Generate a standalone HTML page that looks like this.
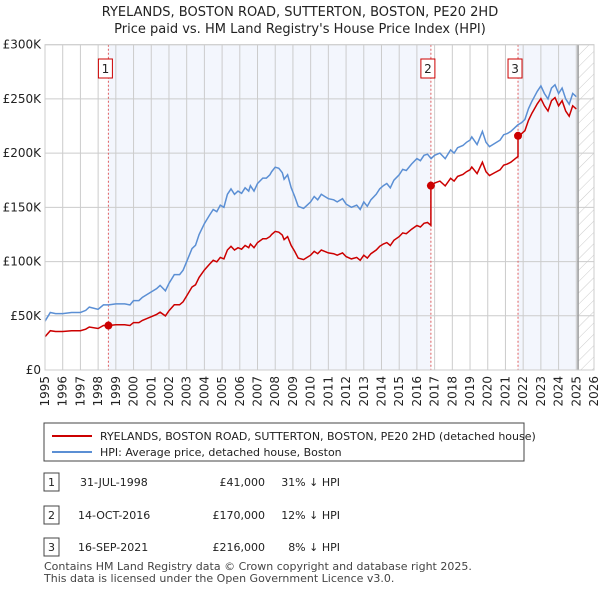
<!DOCTYPE html>
<html><head><meta charset="utf-8"><style>
body{margin:0;background:#fff;font-family:"Liberation Sans",sans-serif;}
svg text{font-family:"DejaVu Sans","Liberation Sans",sans-serif;}
</style></head><body>
<svg id="c" width="600" height="590" viewBox="0 0 600 590">
<defs><pattern id="hatch" width="8" height="8" patternUnits="userSpaceOnUse" patternTransform="rotate(45)"><line x1="0" y1="0" x2="0" y2="8" stroke="#ccc" stroke-width="1"/></pattern></defs>
<text x="300" y="16" text-anchor="middle" font-size="13" fill="#222">RYELANDS, BOSTON ROAD, SUTTERTON, BOSTON, PE20 2HD</text>
<text x="300" y="33" text-anchor="middle" font-size="13" fill="#222">Price paid vs. HM Land Registry's House Price Index (HPI)</text>
<g id="plot"></g>
<rect x="44" y="423" width="480" height="38" fill="#fff" stroke="#444"/>
<line x1="52" y1="436" x2="92" y2="436" stroke="#cc0000" stroke-width="2"/>
<text x="100" y="440" font-size="11" fill="#222">RYELANDS, BOSTON ROAD, SUTTERTON, BOSTON, PE20 2HD (detached house)</text>
<line x1="52" y1="452" x2="92" y2="452" stroke="#5b8fd4" stroke-width="2"/>
<text x="100" y="456" font-size="11" fill="#222">HPI: Average price, detached house, Boston</text>
<g font-size="11" fill="#222">
<rect x="44" y="473" width="15" height="18" fill="#fff" stroke="#444"/><text x="51.5" y="486" text-anchor="middle">1</text>
<text x="80" y="486">31-JUL-1998</text><text x="265" y="486" text-anchor="end">£41,000</text><text x="340" y="486" text-anchor="end">31% ↓ HPI</text>
<rect x="44" y="506" width="15" height="18" fill="#fff" stroke="#444"/><text x="51.5" y="519" text-anchor="middle">2</text>
<text x="78" y="519">14-OCT-2016</text><text x="265" y="519" text-anchor="end">£170,000</text><text x="340" y="519" text-anchor="end">12% ↓ HPI</text>
<rect x="44" y="538" width="15" height="18" fill="#fff" stroke="#444"/><text x="51.5" y="551" text-anchor="middle">3</text>
<text x="78" y="551">16-SEP-2021</text><text x="265" y="551" text-anchor="end">£216,000</text><text x="340" y="551" text-anchor="end">8% ↓ HPI</text>
</g>
<text x="44" y="570" font-size="11" fill="#444">Contains HM Land Registry data © Crown copyright and database right 2025.</text>
<text x="44" y="582" font-size="11" fill="#444">This data is licensed under the Open Government Licence v3.0.</text>
</svg>
<script>
const yTicks=[0,50000,100000,150000,200000,250000,300000];
const yTickLabels=["£0","£50K","£100K","£150K","£200K","£250K","£300K"];
const years=[1995,1996,1997,1998,1999,2000,2001,2002,2003,2004,2005,2006,2007,2008,2009,2010,2011,2012,2013,2014,2015,2016,2017,2018,2019,2020,2021,2022,2023,2024,2025,2026];
const hpiDates=[1995,1995.3,1995.6,1996,1996.5,1997,1997.3,1997.5,1998,1998.3,1998.6,1999,1999.5,1999.8,2000,2000.3,2000.5,2001,2001.3,2001.5,2001.8,2002,2002.3,2002.6,2002.8,2003,2003.3,2003.5,2003.7,2004,2004.3,2004.5,2004.7,2004.9,2005.1,2005.3,2005.5,2005.7,2005.9,2006.1,2006.3,2006.5,2006.6,2006.8,2007,2007.3,2007.5,2007.7,2007.8,2008,2008.2,2008.4,2008.5,2008.7,2008.9,2009.1,2009.3,2009.6,2009.8,2010,2010.2,2010.4,2010.6,2010.8,2011,2011.3,2011.5,2011.8,2012,2012.3,2012.6,2012.8,2013,2013.2,2013.4,2013.7,2013.9,2014.1,2014.3,2014.5,2014.7,2015,2015.2,2015.4,2015.7,2016,2016.2,2016.4,2016.6,2016.8,2017,2017.3,2017.6,2017.9,2018.1,2018.3,2018.6,2018.8,2019,2019.1,2019.4,2019.7,2019.9,2020.1,2020.4,2020.7,2020.9,2021.1,2021.3,2021.5,2021.7,2021.9,2022.1,2022.3,2022.5,2022.6,2022.8,2023,2023.2,2023.4,2023.6,2023.8,2024,2024.2,2024.4,2024.6,2024.8,2025];
const hpiValues=[45000,53000,52000,52000,53000,53000,55000,58000,56000,60000,60000,61000,61000,60000,64000,64000,67000,72000,75000,78000,73000,80000,88000,88000,92000,100000,112000,115000,125000,135000,143000,148000,146000,152000,150000,162000,167000,162000,165000,163000,168000,165000,170000,165000,172000,177000,177000,180000,183000,187000,186000,182000,176000,180000,168000,160000,151000,149000,152000,155000,160000,157000,162000,160000,158000,157000,155000,158000,153000,150000,152000,148000,155000,151000,157000,162000,167000,170000,172000,168000,175000,180000,185000,184000,190000,195000,193000,198000,199000,195000,198000,200000,195000,203000,200000,205000,207000,210000,212000,215000,208000,220000,210000,206000,209000,212000,217000,218000,220000,223000,226000,228000,231000,241000,248000,251000,257000,262000,255000,250000,260000,263000,255000,260000,250000,245000,255000,252000,257000,256000];
const saleDates=[1998.58,2016.79,2021.71];
const salePrices=[41000,170000,216000];
const saleLabels=["1","2","3"];
const xMin=1995,xMax=2026,yMax=300000;
const X0=45,X1=594,Y0=370,Y1=44.7;
const sx=t=>X0+(t-xMin)/(xMax-xMin)*(X1-X0);
const sy=v=>Y0-v/yMax*(Y0-Y1);
const NS="http://www.w3.org/2000/svg";
const g=document.getElementById('plot');
function mk(tag,attrs,parent){const e=document.createElementNS(NS,tag);for(const k in attrs)e.setAttribute(k,attrs[k]);(parent||g).appendChild(e);return e;}
function hpiAt(t){for(let i=1;i<hpiDates.length;i++){if(t<=hpiDates[i]){const f=(t-hpiDates[i-1])/(hpiDates[i]-hpiDates[i-1]);return hpiValues[i-1]+f*(hpiValues[i]-hpiValues[i-1]);}}return hpiValues[hpiValues.length-1];}
const hatchStart=2025.1;
let r=mk('rect',{x:sx(saleDates[0]),y:Y1,width:sx(saleDates[1])-sx(saleDates[0]),height:Y0-Y1,fill:'#f3f6fd'});


r=mk('rect',{x:sx(saleDates[2]),y:Y1,width:sx(hatchStart)-sx(saleDates[2]),height:Y0-Y1,fill:'#f3f6fd'});


r=mk('rect',{x:sx(hatchStart),y:Y1,width:X1-sx(hatchStart),height:Y0-Y1,fill:'url(#hatch)'});


years.forEach(yr=>{const l=mk('line',{x1:sx(yr),x2:sx(yr),y1:Y1,y2:Y0,stroke:'#cccccc'});


const t=mk('text',{x:0,y:0,'font-size':12,fill:'#222','text-anchor':'end',transform:`translate(${sx(yr)+4},${Y0+6}) rotate(-90)`});t.textContent=yr;

});
yTicks.forEach((v,i)=>{const l=mk('line',{x1:X0,x2:X1,y1:sy(v),y2:sy(v),stroke:'#cccccc'});


const t=mk('text',{x:X0-4,y:sy(v)+4,'font-size':12,fill:'#222','text-anchor':'end'});t.textContent=yTickLabels[i];

});
r=mk('line',{x1:sx(hatchStart),x2:sx(hatchStart),y1:Y1,y2:Y0,stroke:'#999','stroke-width':1.5});


saleDates.forEach((d,i)=>{const l=mk('line',{x1:sx(d),x2:sx(d),y1:Y1,y2:Y0,stroke:'#e06060','stroke-dasharray':'2,2'});


const b=mk('rect',{x:sx(d)-10,y:59,width:14,height:19,fill:'#fff',stroke:'#cc0000'});


const t=mk('text',{x:sx(d)-3,y:73,'font-size':12,fill:'#222','text-anchor':'middle'});t.textContent=saleLabels[i];

});
let p=hpiDates.map((d,i)=>(i?'L':'M')+sx(d).toFixed(1)+','+sy(hpiValues[i]).toFixed(1)).join('');
r=mk('path',{d:p,fill:'none',stroke:'#5b8fd4','stroke-width':1.5});


function priceAt(t){let k=0;for(let i=0;i<saleDates.length;i++)if(t>=saleDates[i])k=i;return salePrices[k]*hpiAt(t)/hpiAt(saleDates[k]);}
const pts=[];hpiDates.forEach(d=>{saleDates.forEach((s,i)=>{if(pts.length&&pts[pts.length-1]<s&&d>=s)pts.push(s-0.001,s);});pts.push(d);});
p=pts.map((d,i)=>(i?'L':'M')+sx(d).toFixed(1)+','+sy(priceAt(d)).toFixed(1)).join('');
r=mk('path',{d:p,fill:'none',stroke:'#cc0000','stroke-width':1.5});


saleDates.forEach((d,i)=>{const c=mk('circle',{cx:sx(d),cy:sy(salePrices[i]),r:4,fill:'#cc0000'});

});
r=mk('rect',{x:X0,y:Y1,width:X1-X0,height:Y0-Y1,fill:'none',stroke:'#cccccc'});


</script>
</body></html>
